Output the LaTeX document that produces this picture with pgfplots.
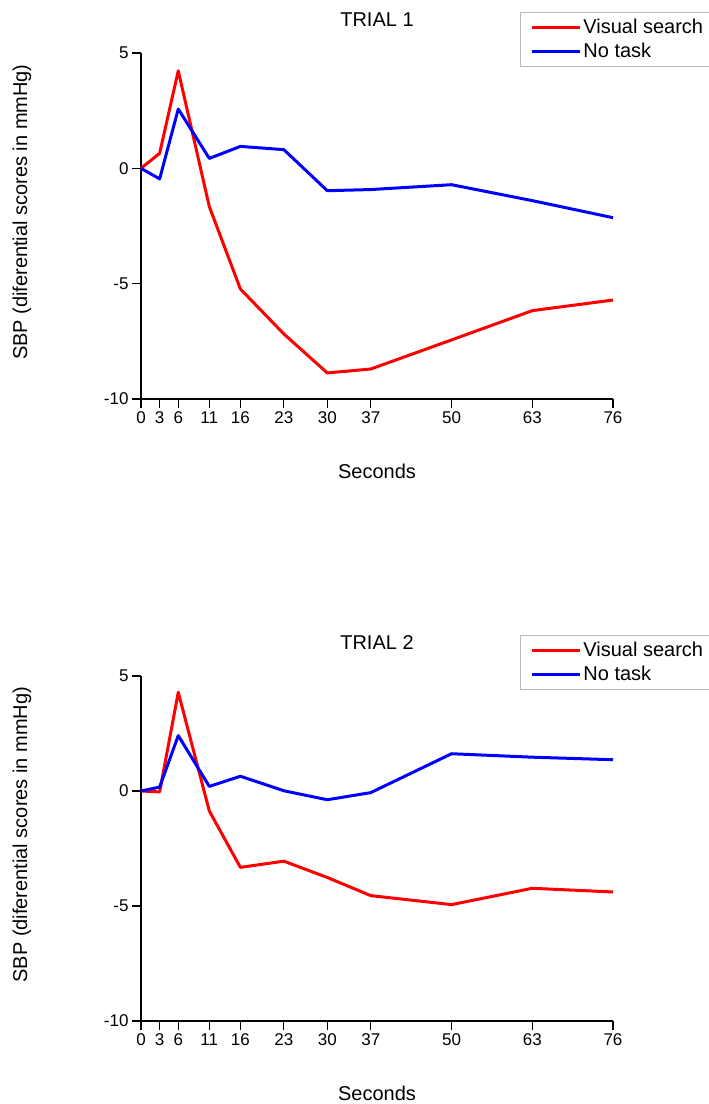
\documentclass[border=0pt]{standalone}
\usepackage{fontspec}
\setmainfont{Liberation Sans}
\usepackage{pgfplots}
\usepackage{pgfplotstable}
\pgfplotsset{compat=1.18}
\definecolor{vsred}{RGB}{255,0,0}
\definecolor{ntblue}{RGB}{0,0,255}

% trial 1: t, visual search, no task
\pgfplotstableread{
t  vs     nt
0   0.00   0.00
3   0.65  -0.46
6   4.23   2.57
11 -1.66   0.43
16 -5.23   0.95
23 -7.18   0.81
30 -8.87  -0.97
37 -8.70  -0.92
50 -7.44  -0.71
63 -6.17  -1.40
76 -5.71  -2.14
}\trialA
% trial 2
\pgfplotstableread{
t  vs     nt
0   0.00   0.00
3  -0.04   0.17
6   4.29   2.41
11 -0.87   0.20
16 -3.32   0.64
23 -3.05   0.01
30 -3.76  -0.38
37 -4.55  -0.07
50 -4.94   1.62
63 -4.23   1.47
76 -4.39   1.36
}\trialB

\pgfplotsset{trial/.style={
  scale only axis, width=472pt, height=346pt,
  xmin=0, xmax=76, ymin=-10, ymax=5,
  clip=false,
  axis x line=bottom, axis y line=left,
  axis line style={-, line width=1.2pt, black},
  xtick={0,3,6,11,16,23,30,37,50,63,76},
  ytick={-10,-5,0,5},
  tick align=outside, major tick length=9pt,
  tick style={line width=1.2pt, black},
  /pgf/number format/assume math mode=true,
  tick label style={font=\fontsize{17}{20}\selectfont},
  label style={font=\fontsize{20}{24}\selectfont},
  xlabel={Seconds},
  xlabel style={at={(axis description cs:0.5,0)}, anchor=center, yshift=-72pt},
  ylabel={SBP (diferential scores in mmHg)},
  ylabel style={at={(axis description cs:-0.252,0.54)}, anchor=center},
  legend style={at={(axis description cs:0.803,1)}, anchor=north west, yshift=41pt,
    draw=gray!55, line width=0.8pt, font=\fontsize{20}{24}\selectfont,
    inner xsep=10pt, inner ysep=5pt, row sep=4pt},
  legend cell align=left,
  legend image code/.code={\draw[#1, line width=3pt] (0pt,0pt) -- (48pt,0pt);},
  every axis plot/.append style={line width=3pt, line join=round, mark=none},
}}

\begin{document}
\begin{tikzpicture}
\path[use as bounding box] (0,0) rectangle (709pt,1104pt);

\begin{axis}[trial, at={(141pt,705pt)}, anchor=south west]
\addplot[vsred] table[x=t, y=vs] {\trialA};
\addplot[ntblue] table[x=t, y=nt] {\trialA};
\legend{Visual search, No task}
\node[font=\fontsize{20}{24}\selectfont] at (rel axis cs:0.5,1) [yshift=33pt] {TRIAL 1};
\end{axis}

\begin{axis}[trial, height=345pt, at={(141pt,83pt)}, anchor=south west]
\addplot[vsred] table[x=t, y=vs] {\trialB};
\addplot[ntblue] table[x=t, y=nt] {\trialB};
\legend{Visual search, No task}
\node[font=\fontsize{20}{24}\selectfont] at (rel axis cs:0.5,1) [yshift=33pt] {TRIAL 2};
\end{axis}
\end{tikzpicture}
\end{document}
